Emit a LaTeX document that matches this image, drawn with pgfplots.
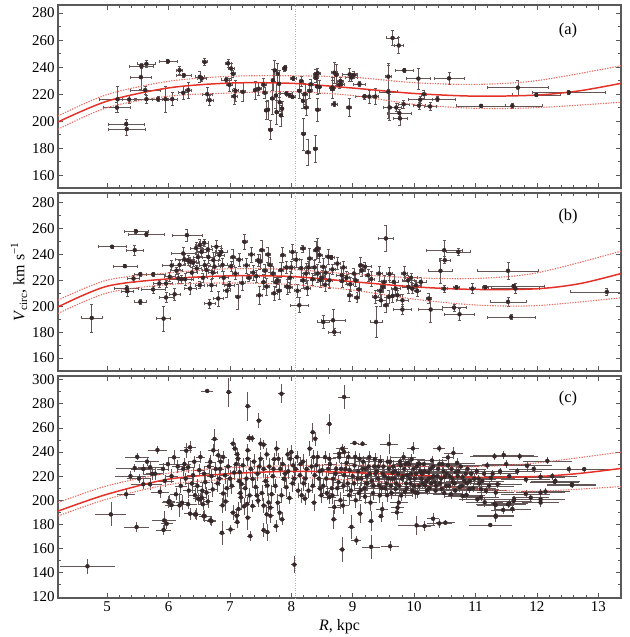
\documentclass[border=0pt]{standalone}
\usepackage{fontspec}
\setmainfont{Liberation Serif}
\usepackage{pgfplots}
\pgfplotsset{compat=1.18}
\usetikzlibrary{arrows.meta}
\definecolor{ptc}{RGB}{55,40,42}
\definecolor{errc}{RGB}{100,85,87}
\definecolor{redc}{RGB}{228,50,40}
\definecolor{redd}{RGB}{240,105,95}
\pgfplotsset{
  panel/.style={
    scale only axis, width=563bp, xmin=4.2, xmax=13.37,
    xtick={5,6,...,13}, minor x tick num=4, minor y tick num=1,
    tick align=inside, major tick length=5bp, minor tick length=3bp,
    axis line style={line width=1.1pt, black!65},
    tick style={line width=0.6pt, black!65},
    ticklabel style={font=\fontsize{15}{17}\selectfont},
    /pgf/number format/assume math mode=true,
    clip=true,
  },
  pts/.style={only marks, mark=*, mark size=2pt, color=ptc, mark options={fill=ptc,draw=ptc},
    error bars/.cd, x dir=both, x explicit, y dir=both, y explicit,
    draw error bar/.code 2 args={\draw[line width=0.6pt, errc, -{Bar[width=3pt,line width=0.6pt]}] ##1 -- ##2;}},
  ptsnc/.style={only marks, mark=*, mark size=2pt, color=ptc, mark options={fill=ptc,draw=ptc},
    error bars/.cd, x dir=both, x explicit, y dir=both, y explicit,
    draw error bar/.code 2 args={\draw[line width=0.6pt, errc] ##1 -- ##2;}},
  fitc/.style={no marks, smooth, line width=1.5pt, color=redc},
  fitb/.style={no marks, smooth, line width=1.1pt, color=redd, dash pattern=on 1.3pt off 1.3pt},
  rzero/.style={no marks, line width=0.5pt, color=black!30, dash pattern=on 1pt off 1.5pt},
}
\begin{document}
\begin{tikzpicture}
\useasboundingbox (0,0) rectangle (630bp,-637bp);
% ---------------- panel (a)
\begin{axis}[panel, at={(58bp,-5bp)}, anchor=north west, height=183bp,
  ymin=150.5, ymax=286, ytick={160,180,...,280}, xticklabels={}]
\addplot[rzero] coordinates {(8.07,100) (8.07,320)};
\addplot[pts] table[x=x,y=y,x error=ex,y error=ey]{
x y ex ey
5.16 210 0.22 4
5.17 216.2 0.3 9.5
5.31 197.8 0.3 3.5
5.32 194.1 0.3 5
5.36 216 0.12 3
5.55 232.6 0.18 9
5.56 240.7 0.2 2
5.62 223 0.25 3
5.64 242.4 0.15 3
5.64 216.3 0.2 3
5.83 216.3 0.1 2
5.95 216.3 0.05 10
6.06 216.3 0.08 5
5.99 244.3 0.15 1.5
6.18 237.7 0.05 3
6.25 234 0.12 2
6.24 221 0.08 5
6.32 223 0.05 6
6.51 232.8 0.08 4
6.54 231.6 0.08 2
6.59 243.8 0.05 3
6.63 220 0.08 5
6.67 215.5 0.06 4
6.94 230.6 0.08 2
6.97 242.8 0.05 3
6.99 226.9 0.05 5
7.02 239 0.05 4
7.05 235 0.04 3
7.07 218.4 0.05 6
7.09 222.5 0.05 8
7.21 221.7 0.04 7
7.41 223 0.04 7
7.47 224 0.04 5
7.55 226.9 0.04 5
7.57 221 0.04 4
7.59 208 0.04 7
7.62 208.4 0.03 7
7.66 193.5 0.04 7
7.69 216.8 0.03 12
7.70 230.3 0.03 8
7.73 237.6 0.03 8
7.75 219 0.03 10
7.76 206.7 0.03 9
7.78 235 0.03 8
7.80 227.6 0.03 10
7.81 214 0.03 7
7.83 204.3 0.03 8
7.85 209.2 0.03 6
7.89 238.8 0.04 2
7.90 239.6 0.03 2
7.92 220.5 0.1 1.5
7.97 219.3 0.05 1.5
8.02 218 0.05 1.5
8.03 231.6 0.05 1.5
8.13 222.4 0.04 6
8.16 229.7 0.04 4
8.19 215 0.04 6
8.20 190.5 0.04 12
8.22 220 0.04 8
8.24 210.1 0.04 6
8.27 177 0.04 10
8.30 222.4 0.04 6
8.32 227.3 0.04 4
8.39 179.5 0.04 10
8.40 232.2 0.04 4
8.42 225.7 0.04 6
8.43 208.4 0.04 9
8.46 225.3 0.04 5
8.43 235.5 0.04 4
8.40 234.6 0.05 4
8.67 223.7 0.04 7
8.70 212.6 0.05 2
8.73 234.3 0.04 8
8.78 227 0.05 3
8.81 227.5 0.05 3
8.70 235.9 0.05 8
8.67 225 0.05 8
8.80 229.7 0.05 3
8.94 210.1 0.05 7
8.98 232.3 0.1 3
9.02 234.2 0.06 3
8.95 234.6 0.12 5
9.11 227.5 0.1 2
9.19 218.2 0.15 2
9.27 218.2 0.05 5
9.37 218.2 0.05 6
9.58 233 0.05 10
9.58 221.7 0.15 20
9.60 210.1 0.1 10
9.71 210.1 0.08 3
9.65 261.6 0.1 6
9.75 256 0.08 6
9.76 206 0.2 3
9.77 202 0.12 5
9.83 212.5 0.1 3
9.84 237.6 0.15 2
10.07 231.5 0.2 8
10.08 211.5 0.1 3
10.16 220 0.05 3
10.10 215.9 0.2 3
10.26 210.9 0.1 3
10.38 216.3 0.3 2
10.57 231.7 0.25 5
11.09 211.3 0.4 1.5
11.60 211.3 0.5 2
11.69 224.8 0.5 6
11.99 219.4 0.4 1.5
12.52 221.2 0.6 1.5
};
\addplot[fitb] coordinates {(4.2,203.8)(5,219.7)(6,229.5)(7,233.2)(8,233.6)(9,232.5)(10,228.5)(11,227.2)(12,230)(13.37,241)};
\addplot[fitb] coordinates {(4.2,194)(5,210)(6,218.5)(7,220.8)(8,221.8)(9,219)(10,212.5)(11,209.5)(12,210)(13.37,214)};
\addplot[fitc] coordinates {(4.2,199.4)(5,214.8)(6,224.6)(7,228.2)(8,228)(9,224.5)(10,220.5)(11,218.5)(12,219.3)(12.7,222.5)(13.37,228)};
\node[font=\fontsize{16.5}{18}\selectfont] at (rel axis cs:0.906,0.863) {(a)};
\end{axis}
% ---------------- panel (b)
\begin{axis}[panel, at={(58bp,-193bp)}, anchor=north west, height=178bp,
  ymin=150, ymax=287.5, ytick={160,180,...,280}, xticklabels={}]
\addplot[rzero] coordinates {(8.07,100) (8.07,320)};
\addplot[pts] table[x=x,y=y,x error=ex,y error=ey]{
x y ex ey
4.75 191 0.17 11
5.08 246 0.23 1.5
5.29 231 0.2 1.5
5.32 213.7 0.2 3
5.33 211.6 0.1 4
5.43 221.4 0.1 3
5.47 258 0.2 2
5.45 243.4 0.15 4
5.54 224.8 0.1 2
5.54 203.4 0.1 2
5.64 255.5 0.3 1.5
5.75 224.6 0.2 2
5.75 213 0.2 3
5.85 217.6 0.1 3
5.92 190.5 0.12 10
5.96 206.8 0.12 4
5.96 217.6 0.1 3
6.02 222.8 0.1 4
6.05 231.5 0.15 4
6.10 209.3 0.1 5
6.13 227.5 0.1 3
6.16 221.6 0.1 4
6.18 232 0.1 4
6.21 220.9 0.2 3
6.24 240.8 0.2 5
6.26 236.2 0.15 4
6.27 220.9 0.1 5
6.30 255 0.25 5
6.32 235.7 0.1 4
6.35 234.4 0.1 4
6.35 213.7 0.1 5
6.38 226 0.1 4
6.40 233.6 0.1 3
6.45 245 0.1 5
6.46 229.2 0.08 3
6.48 238 0.08 5
6.51 216.3 0.08 3
6.51 247.3 0.08 5
6.54 242 0.08 4
6.56 222 0.08 4
6.58 249 0.08 3
6.59 231.8 0.1 4
6.62 228 0.08 5
6.64 244 0.08 5
6.65 238 0.1 5
6.67 202 0.1 4
6.70 216.3 0.08 5
6.72 226 0.08 5
6.73 235.7 0.08 6
6.75 230.6 0.1 5
6.78 246 0.08 5
6.81 206 0.08 6
6.83 239.6 0.08 4
6.86 242 0.1 3
6.88 232 0.08 5
6.90 222 0.08 5
6.95 212 0.06 5
6.99 216.3 0.08 3
7.02 231 0.05 4
7.05 238 0.05 6
7.09 225.3 0.05 5
7.13 207.2 0.05 10
7.15 236 0.05 5
7.20 218 0.05 6
7.24 249.8 0.05 6
7.27 231.6 0.05 6
7.31 221.9 0.05 3
7.35 240 0.05 6
7.38 226 0.05 6
7.43 223.2 0.05 5
7.46 235.5 0.05 5
7.48 208.5 0.05 7
7.49 234.4 0.05 6
7.52 243.4 0.05 8
7.55 218.6 0.05 6
7.57 227.5 0.05 5
7.60 215.2 0.05 7
7.62 240 0.05 6
7.65 232 0.05 6
7.70 225.3 0.05 6
7.72 210 0.05 6
7.75 218.6 0.05 4
7.78 220 0.05 3
7.80 212 0.05 7
7.83 228 0.05 6
7.86 239.5 0.05 6
7.92 230 0.05 5
7.93 215.2 0.05 6
7.97 214.7 0.05 4
7.98 222 0.05 5
8.00 230 0.05 5
8.02 242 0.05 6
8.08 236 0.05 6
8.10 212 0.05 5
8.13 200.8 0.15 6
8.16 229.5 0.05 7
8.19 244.7 0.05 3
8.19 220 0.05 6
8.24 225.3 0.05 8
8.26 214 0.05 6
8.28 230 0.05 5
8.30 236.9 0.05 8
8.35 220.9 0.05 5
8.38 230 0.05 6
8.40 243.4 0.05 7
8.43 244.7 0.05 8
8.46 239.6 0.05 6
8.43 225.3 0.05 7
8.47 220.2 0.05 6
8.50 222 0.05 6
8.52 230.5 0.05 7
8.55 216.6 0.05 5
8.56 226 0.05 5
8.60 238.3 0.05 6
8.62 220 0.05 6
8.65 237.8 0.05 2
8.67 228.5 0.05 4
8.68 189.2 0.2 9
8.52 187.9 0.1 5
8.70 180.1 0.1 3
8.75 233 0.05 5
8.82 224 0.1 6
8.83 219.6 0.05 5
8.85 230 0.05 5
8.90 222 0.05 5
8.95 208.5 0.05 5
8.96 217 0.05 6
9.02 225.3 0.1 4
9.05 220 0.05 5
9.07 206.7 0.05 4
9.10 213 0.05 6
9.13 231.7 0.05 6
9.15 227.8 0.05 5
9.20 230.5 0.1 4
9.25 224 0.05 5
9.30 221 0.05 6
9.38 187.9 0.1 12
9.37 207.2 0.05 5
9.43 225.3 0.05 6
9.45 212 0.05 5
9.46 204.6 0.1 5
9.49 214.9 0.05 4
9.51 218.8 0.05 5
9.54 252.4 0.12 10
9.54 200.8 0.05 6
9.59 207.2 0.05 5
9.60 225 0.05 5
9.65 208 0.08 5
9.67 218.8 0.08 6
9.70 213.6 0.08 5
9.73 208.5 0.05 4
9.81 197.5 0.15 4
9.81 204.6 0.1 5
9.84 225.3 0.05 6
9.90 220 0.1 4
9.91 214.9 0.1 5
9.95 222 0.1 4
9.97 213.6 0.08 4
10.03 216.2 0.08 4
10.05 211.8 0.05 4
10.11 218.8 0.1 4
10.27 197.5 0.2 10
10.24 206 0.05 4
10.43 227.4 0.2 10
10.49 243.3 0.3 8
10.72 242 0.2 3
10.50 235.6 0.1 3
10.49 213.6 0.05 3
10.65 199 0.2 3
10.74 193.8 0.25 5
10.69 214.5 0.05 2
10.95 213.7 0.05 4
11.16 214.5 0.05 2
11.53 227.4 0.5 7
11.62 215.5 0.5 2
11.65 213.7 0.4 4
11.53 203.4 0.3 4
11.58 191.7 0.4 2
13.14 211.1 0.6 3
};
\addplot[fitb] coordinates {(4.2,204.7)(5,220.2)(6,225.8)(7,229)(8,228.4)(9,224.8)(10,222)(11,221.5)(12,225.8)(13.37,242.6)};
\addplot[fitb] coordinates {(4.2,194.4)(5,210.3)(6,216.8)(7,218)(8,216.8)(9,212.5)(10,205.5)(11,201)(12,200.5)(13.37,206.6)};
\addplot[fitc] coordinates {(4.2,199.5)(5,215.5)(6,221.2)(7,223.5)(8,223)(9,219)(10,215)(11,213)(12,213.5)(12.7,217.5)(13.37,225.3)};
\node[font=\fontsize{16.5}{18}\selectfont] at (rel axis cs:0.906,0.865) {(b)};
\end{axis}
% ---------------- panel (c)
\begin{axis}[panel, at={(58bp,-376bp)}, anchor=north west, height=222bp,
  ymin=119, ymax=303, ytick={120,140,...,300}]
\addplot[rzero] coordinates {(8.07,100) (8.07,320)};
\addplot[ptsnc] table[x=x,y=y,x error=ex,y error=ey]{
x y ex ey
4.68 145.3 0.45 6
5.06 188.3 0.25 10
5.31 205 0.15 4
5.48 177.8 0.2 4
5.93 183.3 0.2 8
5.92 175.4 0.12 4
5.97 180.6 0.1 4
6.00 198.3 0.1 5
6.05 196 0.1 4
6.18 195.8 0.05 10
6.32 196.7 0.15 4
6.35 188.9 0.1 5
6.43 188.3 0.08 4
6.51 200.8 0.08 5
6.57 187 0.08 4
6.68 183.3 0.1 4
6.87 173 0.05 10
7.01 175.8 0.08 4
7.05 189.7 0.05 6
7.12 182 0.05 5
7.29 185.6 0.05 10
7.33 170.3 0.05 4
7.37 195.3 0.05 5
7.55 175.3 0.05 6
7.60 188.3 0.05 8
7.61 173.6 0.05 7
7.66 193.9 0.05 5
7.75 178.6 0.05 5
7.81 189.7 0.05 6
7.85 184.2 0.05 5
8.05 146.7 0.05 7
7.97 201.9 0.05 5
8.69 184.2 0.05 8
8.83 159.2 0.05 10
8.98 178 0.05 10
9.06 166.7 0.08 4
9.12 188.9 0.05 8
9.30 161.4 0.15 10
9.30 182.8 0.05 8
9.46 186.9 0.05 5
9.61 161.9 0.15 4
9.73 193.9 0.1 5
10.04 179.2 0.3 8
10.17 178.6 0.1 4
10.31 184.7 0.1 5
10.41 180.8 0.2 4
10.51 181.4 0.15 2
11.24 179.5 0.35 2
11.33 186.4 0.3 4
11.45 192 0.2 3
11.53 196.7 0.3 3
11.62 199.4 0.3 4
12.06 200.8 0.4 3
12.29 215.3 0.4 2
12.57 212.5 0.4 2
12.14 207.2 0.4 3
11.82 205.3 0.4 3
10.85 204.4 0.3 3
11.09 202.5 0.3 3
11.15 198.3 0.3 4
11.33 196.1 0.3 3
6.63 290.6 0.1 1.5
6.98 289.7 0.05 12
7.29 278 0.05 12
7.47 266 0.05 6
7.84 288.3 0.05 8
8.62 263.3 0.05 8
8.86 285.6 0.1 10
8.35 256.4 0.05 8
8.39 251 0.05 6
7.36 251.4 0.05 3
9.59 246.7 0.15 8
9.03 247.5 0.08 2
9.16 246.8 0.08 2
9.98 243 0.1 5
10.41 243 0.1 3
10.64 239.2 0.15 5
10.55 235.5 0.1 3
11.31 236.4 0.4 3
11.46 237.5 0.5 3
11.72 236.4 0.3 3
11.84 228.6 0.4 4
12.17 232.7 0.4 3
12.52 225.8 0.4 3
12.77 225.8 0.4 2
12.30 216 0.4 3
12.57 213.3 0.4 3
12.06 206.4 0.4 3
12.06 198.1 0.3 4
11.90 202.2 0.3 3
11.55 197.5 0.3 3
11.63 200.8 0.3 3
11.36 213.3 0.4 3
11.33 206.4 0.3 4
11.09 209.2 0.3 4
11.03 200.8 0.3 3
10.79 203.6 0.3 4
10.90 209.2 0.3 3
10.86 214.2 0.3 3
11.31 197 0.3 4
11.33 187.3 0.3 4
11.60 192.8 0.3 3
11.25 218.6 0.4 3
11.55 220 0.4 3
11.82 217.2 0.4 3
12.06 219.4 0.4 3
12.25 220 0.4 3
5.49 236 0.2 3
5.82 241.7 0.15 3
5.45 226.7 0.3 3
5.59 226 0.2 4
5.70 227.4 0.2 4
5.73 221.9 0.15 5
5.59 213.3 0.2 4
5.70 213.3 0.2 5
5.94 216.1 0.15 5
5.91 226 0.1 5
5.99 230 0.15 6
6.09 235.6 0.1 6
6.01 199.4 0.1 5
6.29 241.1 0.1 6
6.35 243.9 0.1 5
6.24 226 0.1 6
6.32 227.4 0.1 5
6.40 220.8 0.1 6
6.38 213.9 0.1 8
6.43 204.2 0.1 6
6.48 201.4 0.08 5
6.54 202.2 0.08 6
6.56 196.7 0.08 5
6.62 206.4 0.08 5
6.59 186.9 0.08 5
6.45 188.3 0.08 5
6.70 182.8 0.08 4
6.68 231.8 0.08 6
6.73 241.4 0.08 5
6.75 250.8 0.06 8
6.81 237.3 0.06 5
6.84 226 0.06 6
6.89 235.9 0.06 5
6.92 220.8 0.06 7
6.89 205.6 0.06 8
6.88 195.8 0.06 6
7.00 218 0.06 7
7.05 246.9 0.05 5
7.08 242.8 0.05 5
7.13 234.4 0.05 6
7.16 223.3 0.05 8
7.19 213.6 0.05 9
7.18 202.5 0.05 10
7.14 192.8 0.05 6
7.11 187.2 0.05 5
7.29 241.4 0.05 5
7.31 251.7 0.05 3
7.29 234.4 0.05 6
7.34 226 0.05 7
7.37 217.8 0.05 8
7.28 197 0.05 6
7.46 199.7 0.05 5
7.50 246.9 0.05 5
7.55 246.1 0.05 4
7.50 234.4 0.05 6
7.55 226 0.05 7
7.61 212.2 0.05 9
7.55 195.6 0.05 6
7.63 198.2 0.05 8
7.66 187.2 0.05 6
7.76 242.8 0.05 6
7.79 234.4 0.05 5
7.82 226 0.05 6
7.88 217.8 0.05 7
7.92 210.8 0.05 8
7.84 204.1 0.05 6
7.98 234.4 0.05 5
8.00 240 0.05 6
8.03 228.9 0.05 6
8.09 235.8 0.05 5
8.14 220.8 0.05 7
8.17 204.1 0.05 6
8.22 201.4 0.05 5
8.25 226 0.05 8
8.30 242.8 0.05 6
8.36 235.8 0.05 6
8.38 220.8 0.05 8
8.41 229 0.05 6
8.47 209.7 0.05 7
8.49 204.1 0.05 6
8.55 235.8 0.1 5
8.60 226 0.1 6
8.62 202.6 0.1 6
8.68 217.8 0.1 6
8.78 238.6 0.1 5
8.81 226 0.1 6
8.84 195.6 0.1 7
8.86 240 0.1 5
8.62 234.4 0.1 5
8.73 226 0.1 6
8.67 204 0.1 7
8.70 194.4 0.1 6
8.78 235.8 0.1 5
8.83 242.8 0.1 4
8.86 220.8 0.1 6
8.92 213.9 0.1 7
8.94 204.2 0.1 8
9.03 228.9 0.15 6
9.08 218 0.15 6
9.11 234.4 0.15 5
9.13 208.3 0.1 7
9.21 226 0.15 6
9.24 213.9 0.1 6
9.27 235.8 0.15 5
9.29 198.1 0.1 7
9.37 222 0.15 6
9.43 212.2 0.15 6
9.45 232.4 0.15 5
9.48 192.7 0.1 6
9.56 204.2 0.15 6
9.59 226 0.2 5
9.64 217.8 0.2 6
9.70 209.4 0.2 5
9.72 190 0.1 6
9.75 198.1 0.15 6
9.78 228.9 0.2 5
9.83 235.8 0.2 4
9.89 220.8 0.2 5
9.94 213.9 0.2 5
9.99 226 0.2 4
10.02 206.4 0.2 5
10.07 230.4 0.25 4
10.12 217.8 0.25 5
10.18 212.2 0.25 4
10.23 223.3 0.25 4
10.29 233 0.25 4
10.34 215 0.25 4
10.39 226 0.25 4
10.45 209.4 0.25 5
10.50 219.2 0.3 4
10.55 228.9 0.3 4
10.63 215 0.3 4
10.68 223.3 0.3 4
10.74 210.8 0.3 4
10.79 219.2 0.3 4
10.87 226 0.3 3
10.98 217.8 0.35 4
11.06 213.9 0.35 4
11.14 222 0.35 3
11.19 228.9 0.35 3
6.20 212 0.1 6
6.60 215 0.08 6
6.95 210 0.06 7
7.25 210 0.05 8
7.45 222 0.05 6
7.70 220 0.05 7
7.95 224 0.05 6
8.20 214 0.05 6
8.45 218 0.05 7
8.75 210 0.1 6
9.00 220 0.15 5
9.35 228 0.15 5
9.55 214 0.15 6
9.85 207 0.2 5
10.10 224 0.25 4
10.30 219 0.25 4
10.60 205 0.3 4
10.70 231 0.3 4
7.10 230 0.05 6
7.60 238 0.05 5
8.15 230 0.05 6
8.50 225 0.05 5
9.20 203 0.1 6
9.90 231 0.2 4
6.50 225 0.1 5
6.70 220 0.08 6
8.90 231 0.1 5
9.65 223 0.2 5
6.05 220 0.1 6
6.12 205 0.1 5
6.15 228 0.1 5
6.22 198 0.1 6
6.28 218 0.1 5
6.33 208 0.1 6
6.42 232 0.1 5
6.47 212 0.08 6
6.52 236 0.08 5
6.58 222 0.08 6
6.64 199 0.08 5
6.66 228 0.08 7
6.72 209 0.08 6
6.77 226 0.06 6
6.80 214 0.06 7
6.85 232 0.06 5
6.93 199 0.06 8
6.97 228 0.06 6
7.03 212 0.05 7
7.07 223 0.05 6
7.12 238 0.05 5
7.17 206 0.05 8
7.21 229 0.05 6
7.23 195 0.05 7
7.27 218 0.05 7
7.32 204 0.05 6
7.39 232 0.05 6
7.42 211 0.05 8
7.48 228 0.05 6
7.52 206 0.05 7
7.58 216 0.05 6
7.64 228 0.05 7
7.68 205 0.05 8
7.72 234 0.05 5
7.74 212 0.05 6
7.78 198 0.05 7
7.86 230 0.05 6
7.90 222 0.05 7
7.94 238 0.05 5
8.02 214 0.05 7
8.07 226 0.05 6
8.11 208 0.05 6
8.19 232 0.05 6
8.23 218 0.05 7
8.28 208 0.05 6
8.33 228 0.05 6
8.37 198 0.05 7
8.43 236 0.05 5
8.46 224 0.05 6
8.52 212 0.08 6
8.57 218 0.08 6
8.63 230 0.1 6
8.66 210 0.1 6
8.72 222 0.1 6
8.77 215 0.1 6
8.80 200 0.1 7
8.88 226 0.1 5
8.93 236 0.1 5
8.97 208 0.1 6
9.02 214 0.15 6
9.05 200 0.1 6
9.09 224 0.15 5
9.14 218 0.15 6
9.17 232 0.15 5
9.19 210 0.15 6
9.23 220 0.15 5
9.26 228 0.15 5
9.31 216 0.15 6
9.33 206 0.15 6
9.39 224 0.15 5
9.41 218 0.15 6
9.47 210 0.15 6
9.50 228 0.2 5
9.52 220 0.2 5
9.57 232 0.2 5
9.62 212 0.2 5
9.66 228 0.2 5
9.68 218 0.2 5
9.74 222 0.2 5
9.76 212 0.2 5
9.80 218 0.2 5
9.84 226 0.2 4
9.87 214 0.2 5
9.92 230 0.2 4
9.95 222 0.2 4
9.97 208 0.2 5
10.01 218 0.25 4
10.04 228 0.25 4
10.08 212 0.25 4
10.13 222 0.25 4
10.16 230 0.25 4
10.20 216 0.25 4
10.25 210 0.25 4
10.27 226 0.25 4
10.32 220 0.25 4
10.36 212 0.25 4
10.41 230 0.3 4
10.44 218 0.3 4
10.48 224 0.3 4
10.52 212 0.3 4
10.58 220 0.3 4
10.61 226 0.3 4
10.66 214 0.3 4
10.71 220 0.3 4
10.76 228 0.3 3
10.82 216 0.3 4
10.93 222 0.35 3
11.02 224 0.35 3
11.11 216 0.35 3
11.22 212 0.4 3
11.40 224 0.4 3
11.50 230 0.4 3
11.68 224 0.4 3
11.95 226 0.4 3
5.38 220 0.25 4
5.52 218 0.2 4
5.65 232 0.2 4
5.78 222 0.15 5
5.86 207 0.15 5
8.85 212 0.1 6
8.95 225 0.1 6
9.04 236 0.15 5
9.10 206 0.1 6
9.16 226 0.15 5
9.22 214 0.15 6
9.28 222 0.15 5
9.34 212 0.15 6
9.36 234 0.15 5
9.42 228 0.15 5
9.44 204 0.15 6
9.49 222 0.2 5
9.53 210 0.2 5
9.58 218 0.2 5
9.61 232 0.2 5
9.63 206 0.2 5
9.69 224 0.2 5
9.71 214 0.2 5
9.77 232 0.2 4
9.79 204 0.2 5
9.82 220 0.2 5
9.86 230 0.2 4
9.88 210 0.2 5
9.93 218 0.2 4
9.96 234 0.2 4
10.00 212 0.25 4
10.03 222 0.25 4
10.06 206 0.25 4
10.09 230 0.25 4
10.14 214 0.25 4
10.17 224 0.25 4
10.21 208 0.25 4
10.24 218 0.25 4
10.28 214 0.25 4
10.31 228 0.25 4
10.35 208 0.25 4
10.38 220 0.25 4
10.42 214 0.3 4
10.46 230 0.3 4
10.49 206 0.3 4
10.53 222 0.3 4
10.57 212 0.3 4
10.62 218 0.3 4
10.67 208 0.3 4
10.72 224 0.3 4
10.78 212 0.3 4
10.84 222 0.3 4
10.91 216 0.35 3
10.96 210 0.35 3
11.05 218 0.35 3
11.17 208 0.35 3
11.28 222 0.4 3
6.26 230 0.1 5
6.55 208 0.08 6
6.83 218 0.06 6
7.15 216 0.05 7
7.44 204 0.05 7
7.71 226 0.05 6
8.05 218 0.05 6
8.35 212 0.05 6
8.58 206 0.08 6
};
\addplot[fitb] coordinates {(4.2,198)(5,212)(6,222.5)(7,227)(8,228.6)(9,229.2)(10,228.3)(11,227.8)(12,231)(13.37,240)};
\addplot[fitb] coordinates {(4.2,187)(5,201)(6,213)(7,217.5)(8,219)(9,216.7)(10,213.3)(11,209.3)(12,207.5)(13.37,211.4)};
\addplot[fitc] coordinates {(4.2,191)(5,205)(6,217.5)(7,222)(8,224)(9,223)(10,220.8)(11,219)(12,219.7)(12.7,222.3)(13.37,226.4)};
\node[font=\fontsize{16.5}{18}\selectfont] at (rel axis cs:0.906,0.90) {(c)};
\end{axis}
% ---------------- axis titles
\node[rotate=90, font=\fontsize{16}{18}\selectfont] at (19bp,-282bp)
  {\textit{V}\textsubscript{circ}, km s\textsuperscript{\char"2212 1}};
\node[font=\fontsize{16}{18}\selectfont] at (339.5bp,-627bp) {\textit{R}, kpc};
\end{tikzpicture}
\end{document}
